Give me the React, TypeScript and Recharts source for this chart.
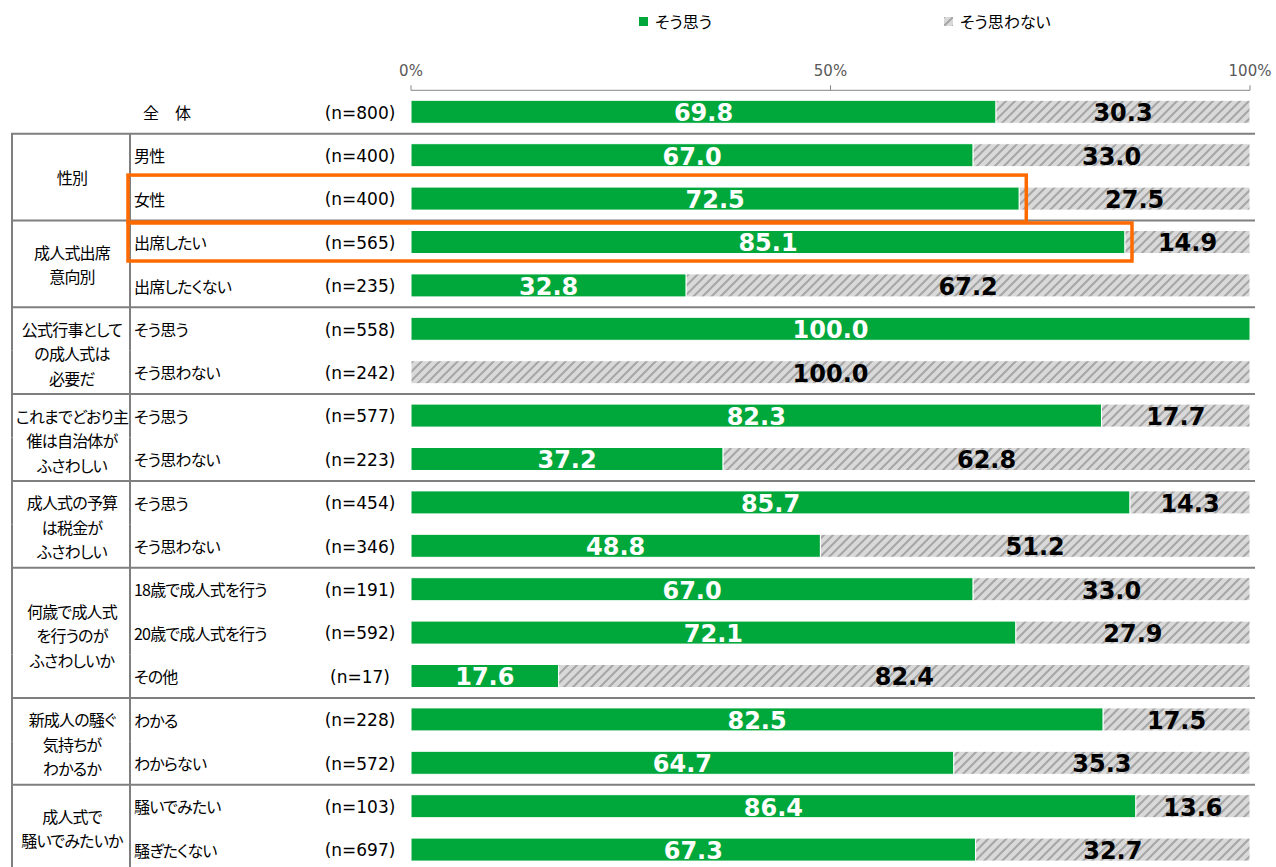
import React from 'react';
import { BarChart, Bar, XAxis, YAxis, LabelList, Legend } from 'recharts';

// ---------- data ----------
const ROW_LABELS = [
  '全　体', '男性', '女性', '出席したい', '出席したくない',
  'そう思う', 'そう思わない', 'そう思う', 'そう思わない', 'そう思う', 'そう思わない',
  '18歳で成人式を行う', '20歳で成人式を行う', 'その他', 'わかる', 'わからない',
  '騒いでみたい', '騒ぎたくない',
];
const SAMPLE_SIZES = [800, 400, 400, 565, 235, 558, 242, 577, 223, 454, 346, 191, 592, 17, 228, 572, 103, 697];
const AGREE = [69.8, 67.0, 72.5, 85.1, 32.8, 100.0, 0, 82.3, 37.2, 85.7, 48.8, 67.0, 72.1, 17.6, 82.5, 64.7, 86.4, 67.3];
const DISAGREE = [30.3, 33.0, 27.5, 14.9, 67.2, 0, 100.0, 17.7, 62.8, 14.3, 51.2, 33.0, 27.9, 82.4, 17.5, 35.3, 13.6, 32.7];
const GROUP_LABELS = [
  ['性別'],
  ['成人式出席', '意向別'],
  ['公式行事として', 'の成人式は', '必要だ'],
  ['これまでどおり主', '催は自治体が', 'ふさわしい'],
  ['成人式の予算', 'は税金が', 'ふさわしい'],
  ['何歳で成人式', 'を行うのが', 'ふさわしいか'],
  ['新成人の騒ぐ', '気持ちが', 'わかるか'],
  ['成人式で', '騒いでみたいか'],
];
const GROUP_STARTS = [1, 3, 5, 7, 9, 11, 14, 16];
const GROUP_SIZES = [2, 2, 2, 2, 2, 3, 2, 2];
const HIGHLIGHT_ROWS = [2, 3];
const SERIES_NAMES = ['そう思う', 'そう思わない'];
const PERCENT_TICKS = [0, 50, 100];

const data = ROW_LABELS.map((label, i) => ({
  key: `r${i}`,
  label,
  n: SAMPLE_SIZES[i],
  yes: AGREE[i],
  no: DISAGREE[i],
}));

// ---------- layout / style ----------
const W = 1276;
const VIEW_H = 867;
const CHART_H = 872;
const YAXIS_W = 1;
const MARGIN = { top: 60.3, right: 26, bottom: 0.5, left: 411 - YAXIS_W };
const XAXIS_H = 30;
const ROW_PITCH = (CHART_H - MARGIN.top - XAXIS_H - MARGIN.bottom) / ROW_LABELS.length;
const JP = "'Noto Sans CJK JP', sans-serif";
const LATIN = "'DejaVu Sans', sans-serif";
const GREEN = '#00a83c';
const LINE = '#7f7f7f';
const ORANGE = '#ff6a00';
const TABLE_LEFT = 12;
const TABLE_MID = 130;
const TABLE_RIGHT = 1255;
const GROUP_CX = 72;
const SUB_X = 134;
const N_CX = 360;
const GROUP_LINE_H = 24.5;
const BOX_LEFT = 128;
const BOX_PAD = 7;
const BOX_HALF: Record<number, number> = { 2: 23.5, 3: 19 };

const jpStyle: React.CSSProperties = { fontFeatureSettings: '"palt"', letterSpacing: '-0.8px' };

function TableTick(props: any) {
  const { y, payload } = props;
  const i = Number(String(payload.value).replace('r', ''));
  const half = ROW_PITCH / 2;
  const g = GROUP_STARTS.findIndex((s, k) => i >= s && i < s + GROUP_SIZES[k]);
  const els: React.ReactNode[] = [];
  if (g < 0) {
    els.push(
      <text key="lab" x={143} y={y} fontFamily={JP} fontSize={16} fill="#000" dominantBaseline="central" style={{ fontFeatureSettings: '"palt"' }}>
        {ROW_LABELS[i]}
      </text>
    );
  } else {
    els.push(
      <text key="lab" x={SUB_X} y={y} fontFamily={JP} fontSize={16} fill="#000" dominantBaseline="central" style={jpStyle}>
        {ROW_LABELS[i]}
      </text>
    );
    els.push(<line key="v1" x1={TABLE_LEFT} x2={TABLE_LEFT} y1={y - half} y2={y + half} stroke={LINE} strokeWidth={2} />);
    els.push(<line key="v2" x1={TABLE_MID} x2={TABLE_MID} y1={y - half} y2={y + half} stroke={LINE} strokeWidth={2} />);
    if (i === GROUP_STARTS[g]) {
      els.push(<line key="h" x1={TABLE_LEFT - 1} x2={TABLE_RIGHT} y1={y - half} y2={y - half} stroke={LINE} strokeWidth={2} />);
      const lines = GROUP_LABELS[g];
      const cy = y + ((GROUP_SIZES[g] - 1) * ROW_PITCH) / 2 + (lines.length >= 3 ? 2.5 : 0);
      lines.forEach((ln, j) => {
        els.push(
          <text key={`g${j}`} x={GROUP_CX} y={cy + (j - (lines.length - 1) / 2) * GROUP_LINE_H} textAnchor="middle"
            fontFamily={JP} fontSize={16} fill="#000" dominantBaseline="central" style={jpStyle}>
            {ln}
          </text>
        );
      });
    }
    if (g === GROUP_STARTS.length - 1 && i === GROUP_STARTS[g] + GROUP_SIZES[g] - 1) {
      els.push(<line key="hb" x1={TABLE_LEFT - 1} x2={TABLE_RIGHT} y1={y + half} y2={y + half} stroke={LINE} strokeWidth={2} />);
    }
  }
  els.push(
    <text key="n" x={N_CX} y={y + 0.5} textAnchor="middle" fontFamily={LATIN} fontSize={17} fill="#000" dominantBaseline="central">
      {`(n=${SAMPLE_SIZES[i]})`}
    </text>
  );
  return <g>{els}</g>;
}

function getBox(props: any) {
  const vb = props.viewBox || {};
  const x = Number(props.x ?? vb.x);
  const y = Number(props.y ?? vb.y);
  const width = Number(props.width ?? vb.width);
  const height = Number(props.height ?? vb.height);
  return { x, y, width, height };
}

const valueLabel = (color: string) => (props: any) => {
  const v = Number(props.value);
  if (!v) return null;
  const { x, y, width, height } = getBox(props);
  return (
    <text x={x + width / 2} y={y + height / 2 + 1.3} textAnchor="middle" dominantBaseline="central"
      fontFamily={LATIN} fontWeight="bold" fontSize={24} fill={color}>
      {v.toFixed(1)}
    </text>
  );
};

const highlightBox = (props: any) => {
  const i = Number(String(props.value).replace('r', ''));
  if (!HIGHLIGHT_ROWS.includes(i)) return null;
  const { x, y, height } = getBox(props);
  const cy = y + height / 2;
  const h = BOX_HALF[i] ?? ROW_PITCH / 2;
  return (
    <rect x={BOX_LEFT} y={cy - h} width={x + BOX_PAD - BOX_LEFT} height={h * 2} fill="none" stroke={ORANGE} strokeWidth={3.5} />
  );
};

function LegendContent(props: any) {
  const payload = props.payload || [];
  return (
    <div style={{ display: 'flex', paddingLeft: 639, fontFamily: JP, fontSize: 16, lineHeight: '26px', color: '#000', fontFeatureSettings: '"palt"' }}>
      {payload.map((p: any, i: number) => (
        <div key={i} style={{ display: 'flex', alignItems: 'center', width: 305, height: 26 }}>
          <svg width={9} height={9} style={{ marginRight: 7, display: 'block' }}>
            <rect width={9} height={9} fill={p.color} />
          </svg>
          <span>{p.value}</span>
        </div>
      ))}
    </div>
  );
}

export default function App() {
  return (
    <div style={{ position: 'absolute', left: 0, top: 0, width: W, height: VIEW_H, overflow: 'hidden', background: '#fff' }}>
      <BarChart width={W} height={CHART_H} data={data} layout="vertical" stackOffset="expand" margin={MARGIN}>
        <defs>
          <pattern id="hatch" patternUnits="userSpaceOnUse" width={9} height={9}>
            <rect width={9} height={9} fill="#d9d9d9" />
            <path d="M-2,2 L2,-2 M0,9 L9,0 M7,11 L11,7" stroke="#a6a6a6" strokeWidth={2} />
          </pattern>
        </defs>
        <XAxis
          type="number"
          orientation="top"
          domain={[0, 1]}
          ticks={PERCENT_TICKS.map((t) => t / 100)}
          tickFormatter={(v: number) => `${Math.round(v * 100)}%`}
          height={XAXIS_H}
          axisLine={{ stroke: '#868686' }}
          tickLine={{ stroke: '#868686' }}
          tickSize={5}
          tickMargin={9}
          tick={{ fill: '#595959', fontSize: 15, fontFamily: LATIN }}
        />
        <YAxis type="category" dataKey="key" width={YAXIS_W} axisLine={false} tickLine={false} interval={0} tick={<TableTick />} />
        <Legend
          layout="horizontal"
          verticalAlign="middle"
          align="center"
          wrapperStyle={{ top: 8, left: 0, width: W, height: 26 }}
          content={<LegendContent />}
        />
        <Bar dataKey="yes" name={SERIES_NAMES[0]} stackId="s" fill={GREEN} stroke="#fff" strokeWidth={1} barSize={23} isAnimationActive={false}>
          <LabelList dataKey="yes" content={valueLabel('#fff')} />
        </Bar>
        <Bar dataKey="no" name={SERIES_NAMES[1]} stackId="s" fill="url(#hatch)" stroke="#fff" strokeWidth={1} barSize={23} isAnimationActive={false}>
          <LabelList dataKey="no" content={valueLabel('#000')} />
          <LabelList dataKey="key" content={highlightBox} />
        </Bar>
      </BarChart>
    </div>
  );
}
